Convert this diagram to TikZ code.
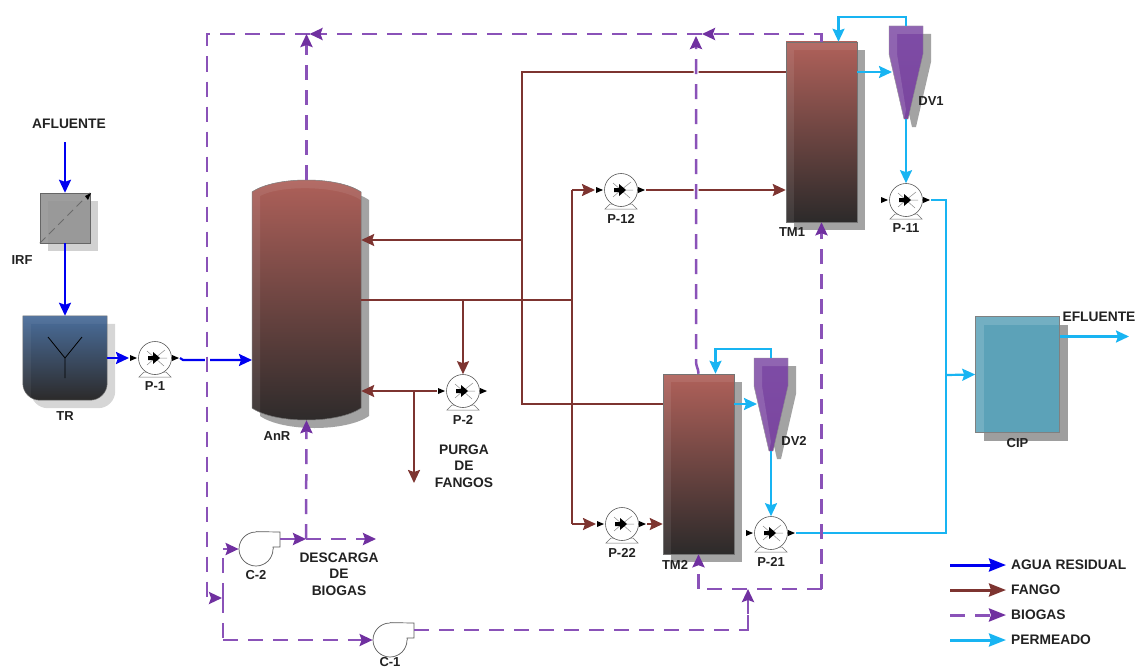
\documentclass[tikz,border=0pt]{standalone}
\usepackage{fontspec}
\setmainfont{Liberation Sans}
\usetikzlibrary{arrows.meta,positioning,shadows}
\definecolor{cAgua}{HTML}{0000F0}
\definecolor{cFango}{HTML}{7D3430}
\definecolor{cGas}{HTML}{8A52B8}
\definecolor{cGasTip}{HTML}{7030A0}
\definecolor{cPerm}{HTML}{18B4F2}
\definecolor{cTxt}{HTML}{222222}
\definecolor{cTop}{HTML}{B0615A}
\definecolor{cBot}{HTML}{2C2A2A}
\definecolor{cTopB}{HTML}{4A6E9C}
\definecolor{cGasTop}{HTML}{7E4CA6}
\definecolor{cGasBot}{HTML}{7A469E}
\definecolor{cCip}{HTML}{5CA2B8}

\begin{document}
\begin{tikzpicture}[x=1pt, y=-1pt,
  lab/.style={font=\fontsize{13}{16.5}\selectfont\bfseries, text=cTxt, align=center, inner sep=0pt},
  labg/.style={lab, font=\fontsize{13.8}{16.5}\selectfont\bfseries},
  agua/.style={cAgua, line width=2.2pt},
  fango/.style={cFango, line width=2pt},
  perm/.style={cPerm, line width=2.2pt},
  gas/.style={cGas, line width=2.5pt, dash pattern=on 15pt off 10pt},
  flecha/.style={-{Stealth[inset=2pt, length=13pt, width=12pt]}},
  gastip/.style={-{Stealth[inset=2pt, length=13pt, width=12pt, color=cGasTip]}},
  flechal/.style={-{Stealth[inset=2pt, length=17pt, width=13pt]}},
  gastipl/.style={-{Stealth[inset=2pt, length=17pt, width=13pt, color=cGasTip]}},
  cruce/.style={preaction={draw=white, solid, line width=5pt, arrows=-}},
  bevel/.style={path picture={
    \fill[white, opacity=#1] (path picture bounding box.north west) rectangle ([yshift=-8pt]path picture bounding box.north east);
    \fill[white, opacity=#1] ([yshift=-8pt]path picture bounding box.north west) rectangle ([xshift=8pt]path picture bounding box.south west);}},
  sombra/.style={general shadow={fill=#1, shadow xshift=8pt, shadow yshift=-8pt}},
  tanque/.style={rectangle, inner sep=0pt, minimum width=71pt, minimum height=180pt, draw=black!55, line width=.5pt,
    top color=cTop, bottom color=cBot, sombra=black!36, bevel=.08},
  hueco/.style={rectangle, inner sep=0pt},
  bomba/.style={circle, draw=black!65, fill=white, line width=.6pt, inner sep=0pt, minimum size=33pt},
  soplante/.style={circle, draw=black!65, fill=white, line width=.7pt, inner sep=0pt, minimum size=34pt}]
\useasboundingbox (0,0) rectangle (1137,669);
% pretreatment
\node[hueco, minimum size=50pt, fill=black!40, draw=black!60, sombra=black!18, bevel=.05] (irf) at (65,218) {};
\draw[black!58, line width=1pt, dash pattern=on 8pt off 5pt] (irf.south west) -- (irf.north east);
\fill[black] (85,196) -- (91,193) -- (88,200) -- cycle;
\node[hueco, minimum width=84pt, minimum height=84pt] (tr) at (65,358) {};
\shade[top color=cTopB, bottom color=cBot, draw=black!55, line width=.5pt, sombra=black!16, bevel=.05]
  (tr.north west) -- (tr.north east) [rounded corners=17pt] -- (tr.south east) -- (tr.south west) [sharp corners] -- cycle;
\draw[black, line width=.8pt] (48,337) -- (tr.center) -- (82,337) (tr.center) -- (65,378);
\node[labg] (aflu) at (69,124) {AFLUENTE};
\node[lab] (irflab) at (22,260) {IRF};
\node[lab, below=11pt of tr] (trlab) {TR};
% anaerobic reactor
\node[hueco, minimum width=109pt, minimum height=240pt] (anr) at (306.5,300) {};
\shade[top color=cTop, bottom color=cBot, draw=black!55, line width=.5pt, sombra=black!36]
  (252,192) .. controls (275,176) and (338,176) .. (361,192) -- (361,408) .. controls (338,424) and (275,424) .. (252,408) -- cycle;
\fill[white, opacity=.08] (252,192) .. controls (275,176) and (338,176) .. (361,192) -- (361,200) .. controls (338,185) and (280,185) .. (260,196) -- (260,414) -- (252,408) -- cycle;
\node[lab] (anrlab) at (277,436) {AnR};
% membrane tanks
\node[tanque] (tm1) at (821.5,132) {};
\node[tanque] (tm2) at (698.5,464) {};
\node[lab] (tm1lab) at (792,232) {TM1};
\node[lab] (tm2lab) at (675,565) {TM2};
% vacuum vessels
\foreach \name/\px/\py in {dv1/906/26, dv2/771/358}{
  \begin{scope}[shift={(\px,\py)}]
    \fill[black!36] (-9,8) -- (25,8) -- (25,36) -- (10,101) -- (6,101) -- (-9,36) -- cycle;
    \shade[top color=cGasTop, bottom color=cGasBot, draw=black!45, line width=.4pt] (-17,0) -- (17,0) -- (17,28) -- (2,93) -- (-2,93) -- (-17,28) -- cycle;
    \fill[white, opacity=.14] (-17,0) -- (17,0) -- (17,8) -- (-9,8) -- (-9,28) -- (0,84) -- (-2,93) -- (-17,28) -- cycle;
    \coordinate (\name-top) at (0,0);
    \coordinate (\name-tip) at (0,93);
    \coordinate (\name-in) at (-14,46);
  \end{scope}
}
\node[lab] (dv1lab) at (931,101) {DV1};
\node[lab] (dv2lab) at (794,441) {DV2};
% CIP
\node[hueco, minimum width=84pt, minimum height=116pt, fill=cCip, draw=black!50, line width=.5pt, sombra=black!38, bevel=.14] (cip) at (1017.5,374.5) {};
\node[lab, below=5pt of cip] (ciplab) {CIP};
% pumps
\foreach \name/\px/\py/\txt in {p1/155/358/P-1, p2/463/391/P-2, p11/906/200/P-11, p12/621/190/P-12, p21/771/533/P-21, p22/622/524/P-22}{
  \begin{scope}[shift={(\px,\py)}]
    \draw[black!55, fill=white, line width=.5pt] (-16,19) -- (-11,14) -- (11,14) -- (16,19) -- cycle;
    \node[bomba] (\name) at (0,0) {};
    \draw[black!45, line width=.5pt] (10,-8) -- (0,0) -- (12,0) (0,0) -- (9,8) (-8,-7) -- (0,0) -- (-8,7);
    \fill[black] (-7,-2) -- (-2,-2) -- (-2,-6) -- (5,0) -- (-2,6) -- (-2,2) -- (-7,2) -- cycle;
    \fill[black] (-25,-3) -- (-18,0) -- (-25,3) -- cycle;
    \fill[black] (17,-3) -- (24,0) -- (17,3) -- cycle;
    \coordinate (\name-in) at (-26,0);
    \coordinate (\name-out) at (25,0);
  \end{scope}
  \node[lab, below=7pt of \name] (\name-lab) {\txt};
}
% blowers
\foreach \name/\px/\py/\txt/\gap in {c2/256/549/C-2/4pt, c1/390/640/C-1/0pt}{
  \begin{scope}[shift={(\px,\py)}]
    \node[soplante] (\name) at (0,0) {};
    \fill[white] (0,-17.4) rectangle (17.6,0);
    \draw[black!65, line width=.7pt] (\name.north) -- (24,-17) -- (24,-2) -- (17,-2) -- (\name.east);
    \coordinate (\name-out) at (24,-10);
  \end{scope}
  \node[lab, below=\gap of \name] (\name-lab) {\txt};
}
% junctions
\coordinate (jA) at (522,72);
\coordinate (jB) at (522,240);
\coordinate (jC) at (522,404);
\coordinate (jD) at (572,300);
\coordinate (jE) at (414,391);
\coordinate (jF) at (414,483);
\coordinate (jT) at (696,34);
\coordinate (jU) at (702,34);
\coordinate (jL) at (207,598);
\coordinate (jV) at (223,598);
\coordinate (jG) at (748,589);
\coordinate (jH) at (306,539);
\coordinate (jI) at (376,539);
\coordinate (jP) at (946,375);
\coordinate (jQ) at (946,200);
\coordinate (jO) at (1129,336.5);
\coordinate (jS) at (65,142);
\coordinate (jR) at (857,72);
\coordinate (jW) at (252,360);
% water
\draw[agua, flecha] (jS) -- (irf.north);
\draw[agua, flecha] (irf.south) -- (tr.north);
\draw[agua, flecha] (tr.east) -- (p1-in);
\draw[agua, flecha] (p1-out) -- ++(3,2) -- (jW);
% sludge
\draw[fango] (tm1.west |- jA) -- (jA) -- (jC) -- (tm2.west |- jC);
\draw[fango, flecha] (jB) -- (anr.east |- jB);
\draw[fango] (anr.east) -- (jD);
\draw[fango, flecha] (p12 -| jD) -- (p12-in);
\draw[fango] (p12 -| jD) -- (jD |- p22);
\draw[fango, flecha] (jD |- p22) -- (p22-in);
\draw[fango, flecha] (p12-out) -- (tm1.west |- p12);
\draw[fango, flecha] (p22-out) -- (tm2.west |- p22);
\draw[fango, flecha] (p2.north |- anr.east) -- (p2.north);
\draw[fango, flecha] (p2-in) -- (anr.east |- p2);
\draw[fango, flecha] (jE) -- (jF);
% permeate
\draw[perm, flecha] (jR) -- (dv1-in);
\draw[perm, flecha] (tm2.east |- jC) -- (dv2-in);
\draw[perm, flecha] (dv1-top) -- ++(0,-9) -| ([xshift=17pt]tm1.north);
\draw[perm, flecha] (dv2-top) -- ++(0,-9) -| ([xshift=17pt]tm2.north);
\draw[perm, flecha] (dv1-tip) -- (p11.north);
\draw[perm, flecha] (dv2-tip) -- (p21.north);
\draw[perm] (p11-out) -- (jQ) -- (jQ |- p21) -- (p21-out);
\draw[perm, flecha] (jP) -- (cip.west);
\draw[perm, flecha] (cip.east |- jO) -- (jO);
% biogas
\draw[gas, cruce, gastip] (tm2.north) .. controls (698.5,368) and (696,368) .. (696,360) -- ([yshift=-2pt]jT);
\draw[gas, gastip] (tm1.north) -- (tm1.north |- jT) -- (jU);
\draw[gas, gastip] (jU) -- ([xshift=3pt]anr.north |- jT);
\draw[gas, cruce, gastip] ([xshift=3pt]anr.north |- jT) -- (jL |- jT) -- (jL) -- ([xshift=-1pt]jV);
\draw[gas, gastip] (anr.north) -- (anr.north |- jT);
\draw[gas, gastip] (jH) -- (anr.south);
\draw[gas] (jV) -- (jV |- c2);
\draw[gas, gastip] (jV |- c2) -- (c2.west);
\draw[gas] (jV) -- (jV |- c1);
\draw[gas, gastip] (jV |- c1) -- (c1.west);
\draw[gas, gastip, solid] (c2-out) -- (jH);
\draw[gas, gastip] (jH) -- (jI);
\draw[gas] (c1-out) -| ([yshift=-12pt]jG);
\draw[gas, gastip] (c1-out -| jG) -- (jG);
\draw[gas, gastip] (tm1.south |- jG) -- (tm1.south);
\draw[gas] (tm1.south |- jG) -- (tm2.south |- jG);
\draw[gas, gastip] (tm2.south |- jG) -- (tm2.south);
% side labels
\node[labg, anchor=south] (eflu) at (1099,322) {EFLUENTE};
\node[labg] (purga) at (464,466) {PURGA\\DE\\FANGOS};
\node[labg] (desc) at (339,574) {DESCARGA\\DE\\BIOGAS};
% legend
\foreach \name/\py/\st/\txt in {lA/565/agua/AGUA RESIDUAL, lB/590/fango/FANGO, lD/640/perm/PERMEADO}{
  \coordinate (\name-s) at (950,\py);
  \node[labg, anchor=west] (\name) at (1011,\py) {\txt};
  \draw[\st, flechal, line width=3pt] (\name-s) -- ([xshift=-5pt]\name.west);
}
\coordinate (lC-s) at (950,615);
\node[labg, anchor=west] (lC) at (1011,615) {BIOGAS};
\draw[gas, gastipl, line width=3pt] (lC-s) -- ([xshift=-5pt]lC.west);
\end{tikzpicture}
\end{document}
